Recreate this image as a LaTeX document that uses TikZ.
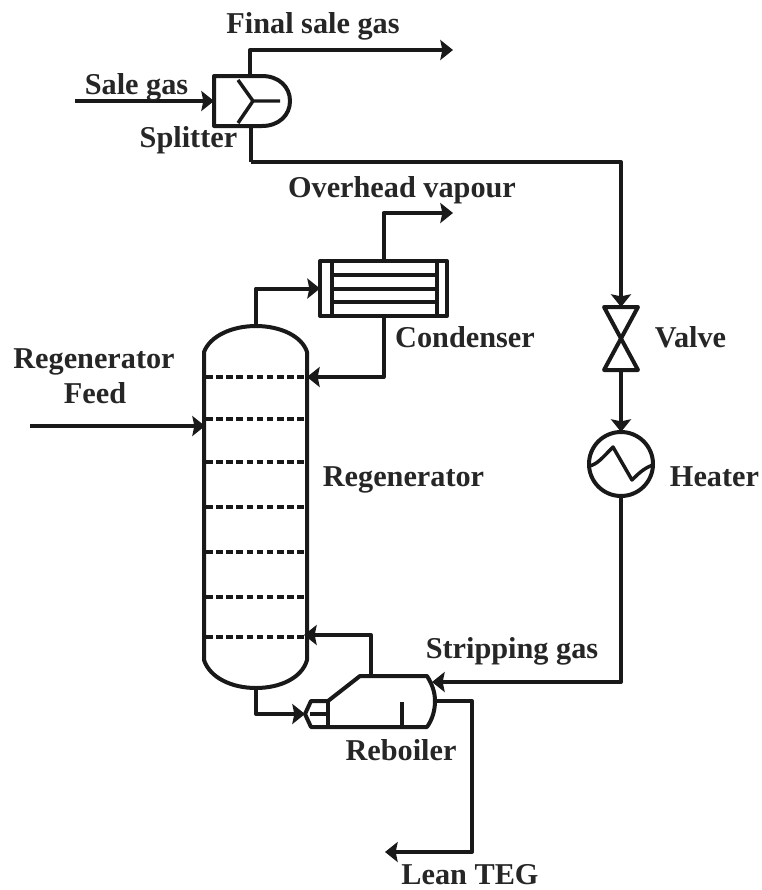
\documentclass[tikz,border=0pt]{standalone}
\usepackage{fontspec}
\setmainfont{Liberation Serif}
\usetikzlibrary{arrows.meta}
\begin{document}
\begin{tikzpicture}[x=0.75pt,y=-0.75pt,
  line width=3pt,line join=round,
  pipe/.style={draw=black!90,line width=3pt},
  flow/.style={pipe,-{Stealth[length=9.5pt,width=15pt,inset=1.5pt]}},
  lbl/.style={font=\fontsize{22.7}{26}\selectfont\bfseries,text=black!85,inner sep=0pt,anchor=base},
  equip/.style={draw=black!90,line width=3pt,fill=white},
  tray/.style={draw=black!90,line width=2.6pt,dash pattern=on 5pt off 2.6pt},
  thin part/.style={draw=black!90,line width=2.6pt}]
\useasboundingbox (0,0) rectangle (762,890);
\fill[white] (0,0) rectangle (762,890);
% anchor points
\coordinate (salein) at (75,101);
\coordinate (splitL) at (214,101);
\coordinate (splitT) at (250,76);
\coordinate (splitB) at (251,126);
\coordinate (finalend) at (453,50);
\coordinate (bendA) at (251,162);
\coordinate (valveT) at (621,307);
\coordinate (valveB) at (621,370);
\coordinate (feedin) at (30,426);
\coordinate (towerL) at (205,426);
\coordinate (towerT) at (256,326);
\coordinate (towerB) at (256,688);
\coordinate (towerR1) at (307,377);
\coordinate (towerR2) at (304,635);
\coordinate (ovhend) at (453,213);
\coordinate (rebHead) at (305,714);
\coordinate (rebTop) at (371,676);
\coordinate (rebGas) at (432,682);
\coordinate (rebOut) at (434,701);
\coordinate (leanend) at (385,852);
\coordinate (leancorner) at (472,852);
% splitter
\draw[equip] (214,76) -- (262,76) .. controls (279,76) and (290,87) .. (290,101)
  .. controls (290,115) and (279,126) .. (262,126) -- (214,126) -- cycle;
\draw[thin part] (238,80) -- (253,101) -- (238,123) (253,101) -- (280,101);
% condenser
\node[equip,minimum width=95.25pt,minimum height=41.25pt,inner sep=0pt,outer sep=0pt] (cond) at (383.5,288.5) {};
\draw[thin part] (332,261) -- (332,316) (437,261) -- (437,316)
  (332,275) -- (437,275) (332,289) -- (437,289) (332,302) -- (437,302);
% tower
\draw[equip] (204,352) .. controls (210,336) and (232,326) .. (256,326)
  .. controls (280,326) and (302,336) .. (307,352) -- (307,660)
  .. controls (302,678) and (280,688) .. (256,688)
  .. controls (232,688) and (210,678) .. (204,660) -- cycle;
\foreach \y in {377,419,462,507,552,597,637}
  \draw[tray] (206,\y) -- (306,\y);
% valve
\draw[equip] (604,307) -- (638,307) -- (604,370) -- (638,370) -- cycle;
% heater
\node[equip,circle,minimum size=48pt,inner sep=0pt,outer sep=0pt] (heater) at (621,464) {};
\draw[thin part] (589,466) .. controls (597,465) and (604,456) .. (613,447)
  -- (632,480) .. controls (638,474) and (644,468) .. (653,465);
% reboiler
\draw[equip] (360,676) -- (427,676) .. controls (432,684) and (435,692) .. (435,701)
  .. controls (435,711) and (432,720) .. (427,727) -- (311,727)
  -- (305,714) -- (311,701) -- (328,701) -- cycle;
\draw[thin part] (328,701) -- (328,727) (310,714) -- (328,714) (402,702) -- (402,727);
% connectors
\draw[flow] (salein) -- (splitL);
\draw[flow] (splitT) |- (finalend);
\draw[pipe] (splitB) -- (bendA);
\draw[flow] (bendA) -| (valveT);
\draw[flow] (valveB) -- (heater.north);
\draw[flow] (heater.south) |- (rebGas);
\draw[flow] (feedin) -- (towerL);
\draw[flow] (towerT) |- (cond.west);
\draw[flow] (cond.north) |- (ovhend);
\draw[flow] (cond.south) |- (towerR1);
\draw[flow] (towerB) |- (rebHead);
\draw[flow] (rebTop) |- (towerR2);
\draw[flow] (rebOut) -| (leancorner) -- (leanend);
% labels
\node[lbl] (l1) at (313,33) {Final sale gas};
\node[lbl] (l2) at (136.5,94) {Sale gas};
\node[lbl] (l3) at (188.5,147) {Splitter};
\node[lbl] (l4) at (402,197) {Overhead vapour};
\node[lbl] (l5) at (465,347) {Condenser};
\node[lbl] (l6) at (690.5,347) {Valve};
\node[lbl] (l7) at (94,368) {Regenerator};
\node[lbl] (l8) at (95,403) {Feed};
\node[lbl] (l9) at (403.5,486) {Regenerator};
\node[lbl] (l10) at (714.5,486) {Heater};
\node[lbl] (l11) at (512,658) {Stripping gas};
\node[lbl] (l12) at (401,760) {Reboiler};
\node[lbl] (l13) at (470,884) {Lean TEG};
\end{tikzpicture}
\end{document}
